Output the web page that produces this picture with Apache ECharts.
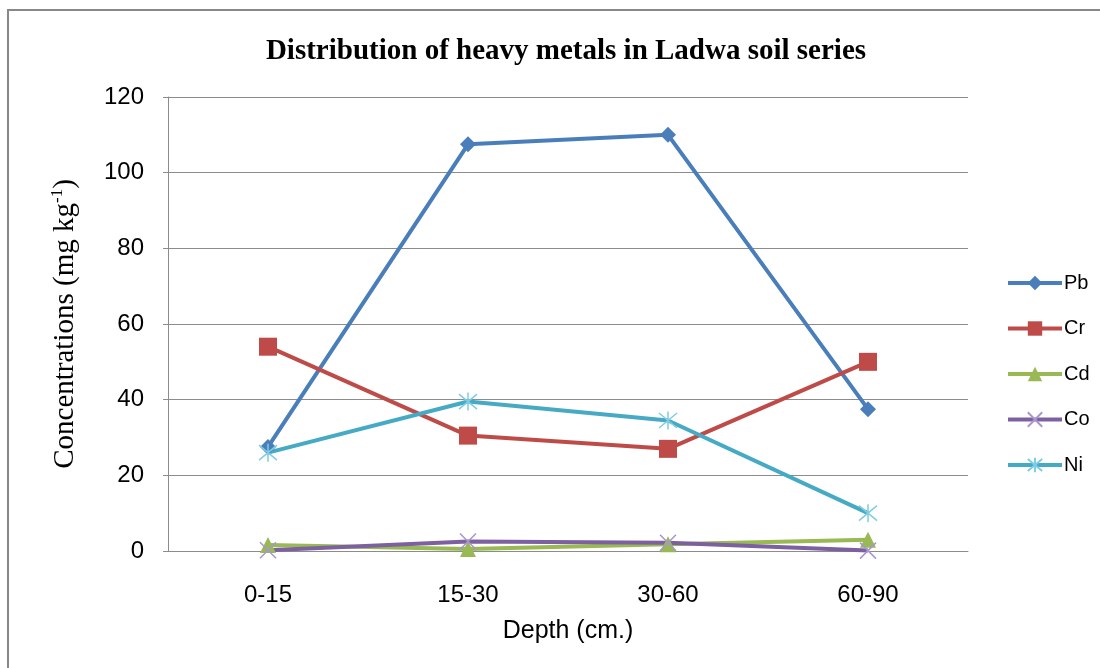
<!DOCTYPE html>
<html>
<head>
<meta charset="utf-8">
<script src="https://cdn.jsdelivr.net/npm/echarts@6/dist/echarts.min.js"></script>
<style>
  html, body { margin: 0; padding: 0; background: #fff; }
  #chart { width: 1100px; height: 668px; }
</style>
</head>
<body>
<div id="chart"></div>
<script>
  const depths = ['0-15', '15-30', '30-60', '60-90']
  const pb = [27.5, 107.5, 110, 37.5]
  const cr = [54, 30.5, 27, 50]
  const cd = [1.6, 0.5, 1.8, 3.0]
  const co = [0.2, 2.5, 2.2, 0.1]
  const ni = [26, 39.5, 34.5, 10]

  const xMark = 'path://M0,0L10,10M10,0L0,10'
  const starMark = 'path://M0,0L10,10M10,0L0,10M5,-1L5,11'

  const chart = echarts.init(document.getElementById('chart'))

  const makeSeries = (name, data, color, symbol, size, markColor) => ({
    name: name,
    type: 'line',
    data: data,
    symbol: symbol,
    symbolSize: size,
    showAllSymbol: true,
    lineStyle: { color: color, width: 4 },
    itemStyle: markColor
      ? { color: 'rgba(0,0,0,0)', borderColor: markColor, borderWidth: 1.5 }
      : { color: color },
    emphasis: { disabled: true },
    animation: false
  })

  const option = {
    animation: false,
    title: {
      text: 'Distribution of heavy metals in Ladwa soil series',
      left: 561,
      textAlign: 'center',
      top: 32,
      textStyle: {
        fontFamily: 'Liberation Serif',
        fontWeight: 'bold',
        fontSize: 29,
        color: '#000'
      }
    },
    legend: {
      orient: 'vertical',
      left: 1001,
      top: 268,
      itemWidth: 54,
      itemHeight: 18,
      itemGap: 25.5,
      lineStyle: { width: 4 },
      textStyle: { fontFamily: 'Liberation Sans', fontSize: 20, color: '#000', padding: [0, 0, 0, -3] },
      data: ['Pb', 'Cr', 'Cd', 'Co', 'Ni']
    },
    grid: { left: 168, right: 132, top: 97, bottom: 117 },
    xAxis: {
      type: 'category',
      data: depths,
      boundaryGap: true,
      name: 'Depth (cm.)',
      nameLocation: 'middle',
      nameGap: 68,
      nameTextStyle: { fontFamily: 'Liberation Sans', fontSize: 25, color: '#000' },
      axisLine: { lineStyle: { color: '#8c8c8c', width: 1 } },
      axisTick: { show: false },
      axisLabel: { fontFamily: 'Liberation Sans', fontSize: 24, color: '#000', margin: 32 }
    },
    yAxis: {
      type: 'value',
      min: 0,
      max: 120,
      interval: 20,
      name: '{a|Concentrations (mg kg}{s|-1}{a|)}',
      nameLocation: 'middle',
      nameGap: 87,
      nameTextStyle: {
        rich: {
          a: { fontFamily: 'Liberation Serif', fontSize: 29, color: '#000' },
          s: { fontFamily: 'Liberation Serif', fontSize: 17, color: '#000', padding: [0, 0, 15, 0] }
        }
      },
      axisLine: { show: true, lineStyle: { color: '#8c8c8c', width: 1 } },
      axisTick: { show: true, length: 5, lineStyle: { color: '#8c8c8c' } },
      axisLabel: { fontFamily: 'Liberation Sans', fontSize: 24, color: '#000', margin: 24 },
      splitLine: { lineStyle: { color: '#8c8c8c', width: 1 } }
    },
    graphic: [
      {
        type: 'rect',
        shape: { x: 8, y: 10, width: 1200, height: 800 },
        style: { fill: 'none', stroke: '#888', lineWidth: 2 },
        silent: true
      }
    ],
    series: [
      makeSeries('Pb', pb, '#4a7ebb', 'diamond', 16),
      makeSeries('Cr', cr, '#be4b48', 'rect', 18),
      makeSeries('Cd', cd, '#98b954', 'triangle', 16),
      makeSeries('Co', co, '#7d60a0', xMark, 16, '#a896cc'),
      makeSeries('Ni', ni, '#46aac5', starMark, 18, '#7fcde2')
    ]
  }

  chart.setOption(option)
</script>
</body>
</html>
